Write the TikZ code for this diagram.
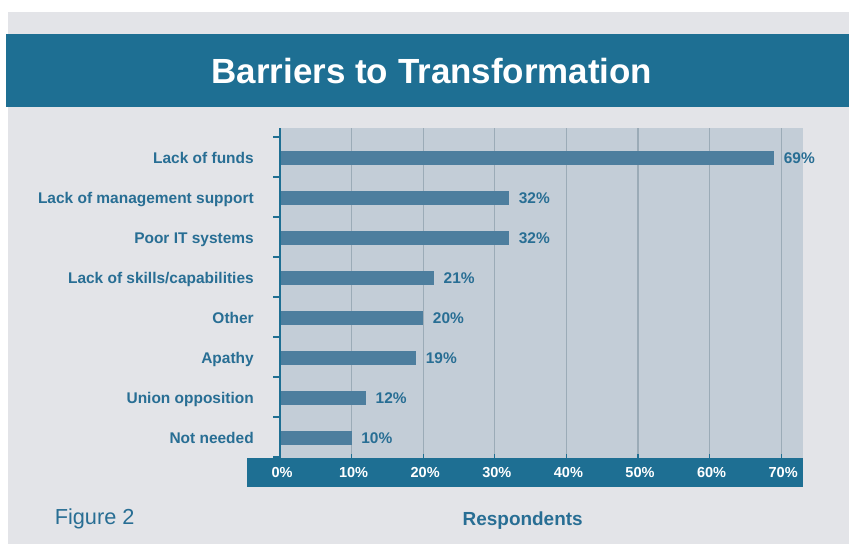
\documentclass[tikz,border=0pt]{standalone}
\usepackage{fontspec}
\setmainfont{Liberation Sans}
\definecolor{panelgray}{RGB}{227,228,232}
\definecolor{bandblue}{RGB}{30,111,147}
\definecolor{plotbg}{RGB}{195,205,215}
\definecolor{barblue}{RGB}{77,126,158}
\definecolor{gridgray}{RGB}{155,171,183}
\definecolor{labblue}{RGB}{40,110,148}
\tikzset{
  catlabel/.style={anchor=base east,inner sep=0pt,text=labblue,font=\fontsize{11.6pt}{13pt}\selectfont\bfseries},
  vallabel/.style={anchor=base west,inner sep=0pt,text=labblue,font=\fontsize{11.6pt}{13pt}\selectfont\bfseries},
  axlabel/.style={anchor=base,inner sep=0pt,text=white,font=\fontsize{10.9pt}{12pt}\selectfont\bfseries},
  barbox/.style={fill=barblue,draw=none},
  gridline/.style={draw=gridgray,line width=0.8pt},
}
\begin{document}
\begin{tikzpicture}[x=0.75pt,y=-0.75pt]
\useasboundingbox (0,0) rectangle (849,544);
\fill[white] (0,0) rectangle (849,544);
\fill[panelgray] (8,12) rectangle (849,544);
% title band
\fill[bandblue] (6,34) rectangle (849,107);
\node (title) [anchor=base,inner sep=0pt,text=white,font=\fontsize{26.2pt}{30pt}\selectfont\bfseries] at (432,83) {Barriers to Transformation};
% plot area
\fill[plotbg] (280,128) rectangle (803,458);
\foreach \k in {1,...,7} {
  \draw[gridline] ({280+71.6*\k},128) -- ({280+71.6*\k},458);
  \draw[bandblue,line width=1pt] ({280+71.6*\k},454) -- ({280+71.6*\k},458);
}
% axis band
\fill[bandblue] (247,458) rectangle (803,487);
% left axis and ticks
\draw[bandblue,line width=1.3pt] (280,128) -- (280,458);
\foreach \k in {0,...,8} {
  \draw[bandblue,line width=1pt] (273,{137+40*\k}) -- (280,{137+40*\k});
}
% bars
\foreach \i/\v/\w/\lab in {0/69/69/{Lack of funds},1/32/32/{Lack of management support},2/32/32/{Poor IT systems},3/21/21.5/{Lack of skills/capabilities},4/20/20/{Other},5/19/19/{Apathy},6/12/12/{Union opposition},7/10/10/{Not needed}} {
  \fill[barblue] (281,{151+40*\i}) rectangle ({280+7.16*\w},{165+40*\i});
  \node (cat\i) [catlabel] at (254,{163.5+40*\i}) {\lab};
  \node (val\i) [vallabel] at ({280+7.16*\w+9.5},{163.5+40*\i}) {\v\%};
}
% axis labels
\foreach \k in {0,...,7} {
  \node (ax\k) [axlabel] at ({282+71.6*\k},477.7) {\the\numexpr\k*10\relax\%};
}
\node (resp) [anchor=base,inner sep=0pt,text=labblue,font=\fontsize{14.2pt}{16pt}\selectfont\bfseries] at (522.7,525.7) {Respondents};
\node (fig) [anchor=base west,inner sep=0pt,text=labblue,font=\fontsize{16.3pt}{18pt}\selectfont] at (54.5,524.3) {Figure 2};
\end{tikzpicture}
\end{document}
